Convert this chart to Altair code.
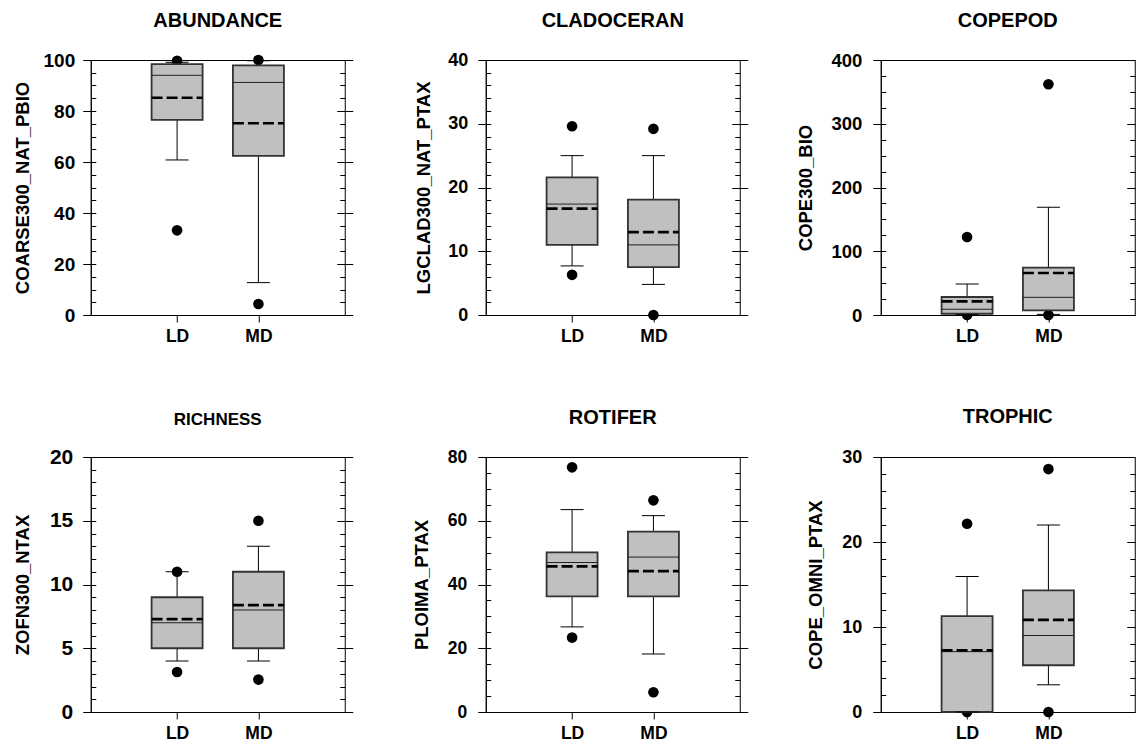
import altair as alt
import pandas as pd

groups = ["LD", "MD"]
panel_titles = ["ABUNDANCE", "CLADOCERAN", "COPEPOD", "RICHNESS", "ROTIFER", "TROPHIC"]
y_titles = ["COARSE300_NAT_PBIO", "LGCLAD300_NAT_PTAX", "COPE300_BIO",
            "ZOFN300_NTAX", "PLOIMA_PTAX", "COPE_OMNI_PTAX"]
y_max = [100, 40, 400, 20, 80, 30]
major_step = [20, 10, 100, 5, 20, 10]
minor_step = [5, 2, 25, 1, 5, 2]

# box statistics per panel: [LD, MD]
whisker_low = [[60.8, 12.7], [7.7, 4.8], [0.5, 1.0], [4.0, 4.0], [26.7, 18.2], [0.0, 3.2]]
box_low = [[76.5, 62.4], [11.0, 7.5], [2.0, 7.3], [5.0, 5.0], [36.3, 36.3], [0.0, 5.5]]
median = [[94.0, 91.2], [17.4, 11.0], [9.0, 27.7], [7.0, 8.0], [46.9, 48.6], [7.1, 9.0]]
mean = [[85.2, 75.2], [16.7, 13.0], [21.5, 65.9], [7.28, 8.38], [45.7, 44.2], [7.26, 10.84]]
box_high = [[98.4, 97.9], [21.6, 18.1], [28.2, 74.2], [9.0, 11.0], [50.1, 56.6], [11.27, 14.3]]
whisker_high = [[99.1, 99.7], [25.0, 25.0], [48.6, 169.0], [11.0, 13.0], [63.5, 61.6], [15.94, 22.0]]
outliers_ld = [[33.2, 99.7], [29.6, 6.3], [122.4, 0.0], [11.0, 3.14], [76.75, 23.35], [22.14, 0.0]]
outliers_md = [[100.0, 4.3], [29.2, 0.0], [362.0, 0.0], [15.0, 2.54], [66.4, 6.2], [28.58, 0.0]]

# styling per panel
title_size = [20, 20, 20, 17, 20, 20]
title_offset = [4, 4, 4, 4, 4, 5]
tick_label_size = [19, 18, 18.5, 21, 17.5, 18]
label_pad = [8, 10, 11, 10, 11, 11]
ytitle_x = [-68, -62, -75, -68, -64, -65]
right_tick_out = [8, 8, 0, 8, 8, 0]

FONT = "Liberation Sans"
W = 254
H = 255
BOX_W = 51
CAP_W = 23


def make_panel(i):
    pos = [groups.index(g) + 1 for g in groups]
    stats = pd.DataFrame({
        "group": groups, "pos": pos,
        "lo": whisker_low[i], "q1": box_low[i], "med": median[i],
        "mean": mean[i], "q3": box_high[i], "hi": whisker_high[i],
    })
    out = pd.DataFrame({
        "pos": [1] * len(outliers_ld[i]) + [2] * len(outliers_md[i]),
        "value": outliers_ld[i] + outliers_md[i],
    })
    n_major = int(round(y_max[i] / major_step[i]))
    n_minor = int(round(y_max[i] / minor_step[i]))
    majors = [k * major_step[i] for k in range(n_major + 1)]
    minors = [k * minor_step[i] for k in range(n_minor + 1)]

    yscale = alt.Scale(domain=[0, y_max[i]], nice=False, zero=False)
    xaxis = alt.Axis(values=[1, 2], title=None, grid=False, tickSize=7,
                     labelPadding=5, labelFontSize=17.5,
                     labelExpr="['" + groups[0] + "','" + groups[1] + "'][datum.value - 1]")
    x = alt.X("pos:Q", scale=alt.Scale(domain=[0, 3], nice=False, zero=False), axis=xaxis)

    axis_main = alt.Axis(orient="left", values=majors, tickSize=8, labelPadding=label_pad[i],
                         labelFontSize=tick_label_size[i], title=y_titles[i], titleFontSize=18.5,
                         titleX=ytitle_x[i], titleBaseline="middle", grid=False)
    axis_minor_left = alt.Axis(orient="left", values=minors, offset=-5, tickSize=5,
                               labels=False, domain=False, title=None, grid=False)
    axis_right = alt.Axis(orient="right", values=majors, offset=-8, tickSize=8 + right_tick_out[i],
                          labels=False, domain=False, title=None, grid=False)
    axis_minor_right = alt.Axis(orient="right", values=minors, offset=-5, tickSize=5,
                                labels=False, domain=False, title=None, grid=False)

    base = alt.Chart(stats)
    dots = alt.Chart(out).mark_circle(size=113, color="black", opacity=1).encode(
        x=x, y=alt.Y("value:Q", scale=yscale, axis=axis_minor_left))
    wlow = base.mark_rule(color="black", strokeWidth=1).encode(
        x=x, y=alt.Y("lo:Q", scale=yscale, axis=axis_minor_right), y2="q1:Q")
    whigh = base.mark_rule(color="black", strokeWidth=1).encode(
        x=x, y=alt.Y("q3:Q", scale=yscale, axis=None), y2="hi:Q")
    box = base.mark_bar(size=BOX_W, fill="#c0c0c0", stroke="#333333", strokeWidth=1.8).encode(
        x=x, y=alt.Y("q1:Q", scale=yscale, axis=axis_main), y2="q3:Q")
    cap_lo = base.mark_rule(color="black", strokeWidth=1, xOffset=-CAP_W / 2, x2Offset=CAP_W / 2).encode(
        x=x, x2="pos:Q", y=alt.Y("lo:Q", scale=yscale, axis=None))
    cap_hi = base.mark_rule(color="black", strokeWidth=1, xOffset=-CAP_W / 2, x2Offset=CAP_W / 2).encode(
        x=x, x2="pos:Q", y=alt.Y("hi:Q", scale=yscale, axis=None))
    med = base.mark_rule(color="#222222", strokeWidth=1, xOffset=-BOX_W / 2, x2Offset=BOX_W / 2).encode(
        x=x, x2="pos:Q", y=alt.Y("med:Q", scale=yscale, axis=axis_right))
    mn = base.mark_rule(color="black", strokeWidth=2.7, strokeDash=[11, 4],
                        xOffset=-BOX_W / 2, x2Offset=BOX_W / 2).encode(
        x=x, x2="pos:Q", y=alt.Y("mean:Q", scale=yscale, axis=None))

    return alt.layer(dots, wlow, whigh, box, cap_lo, cap_hi, med, mn).resolve_scale(
        y="shared").resolve_axis(y="independent").properties(
        width=W, height=H,
        title=alt.TitleParams(panel_titles[i], fontSize=title_size[i], anchor="middle",
                              frame="group", baseline="alphabetic", offset=title_offset[i]))


chart = alt.concat(*[make_panel(i) for i in range(6)], columns=3,
                   spacing={"row": 142, "column": 141}, bounds="flush").properties(
    padding={"left": 4.75, "top": 2, "right": 0, "bottom": 1}
).configure_view(stroke="black", strokeWidth=1).configure_axis(
    labelFont=FONT, titleFont=FONT, labelFontWeight="bold", titleFontWeight="bold",
    labelColor="black", titleColor="black", domainColor="black", tickColor="black",
    domainWidth=1, tickWidth=1, grid=False
).configure_title(font=FONT, fontWeight="bold", color="black")

chart.save("out.html", embed_options={"renderer": "svg", "actions": False})
